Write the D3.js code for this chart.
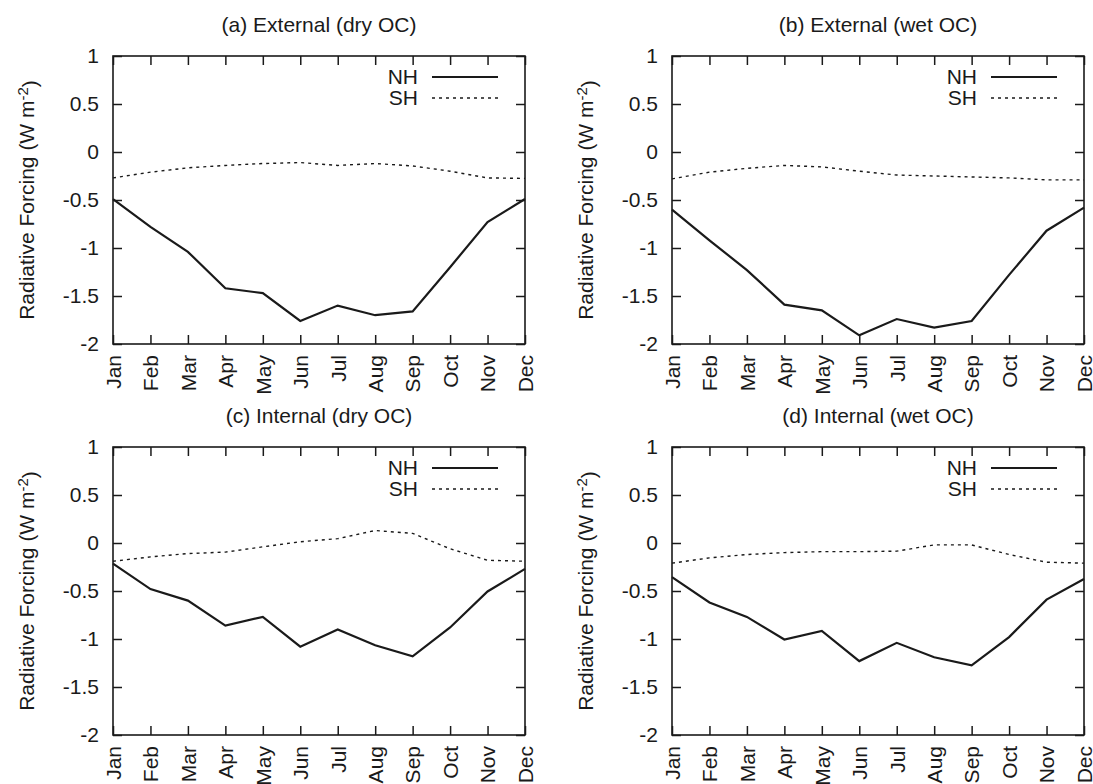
<!DOCTYPE html>
<html>
<head>
<meta charset="utf-8">
<script src="https://cdn.jsdelivr.net/npm/d3@7"></script>
<style>
  body { margin: 0; background: #fff; }
  text { font-family: "Liberation Sans", Arial, sans-serif; fill: #1a1a1a; }
</style>
</head>
<body>
<script>
var months = ['Jan','Feb','Mar','Apr','May','Jun','Jul','Aug','Sep','Oct','Nov','Dec'];
var yTicks = [1, 0.5, 0, -0.5, -1, -1.5, -2];
var yTickLabels = ['1','0.5','0','-0.5','-1','-1.5','-2'];

// (a) External (dry OC)
var aNH = [-0.49, -0.78, -1.04, -1.42, -1.47, -1.76, -1.60, -1.70, -1.66, -1.20, -0.73, -0.49];
var aSH = [-0.27, -0.21, -0.165, -0.14, -0.12, -0.11, -0.14, -0.12, -0.145, -0.20, -0.27, -0.275];
// (b) External (wet OC)
var bNH = [-0.60, -0.92, -1.23, -1.59, -1.65, -1.91, -1.74, -1.83, -1.76, -1.28, -0.82, -0.58];
var bSH = [-0.28, -0.21, -0.17, -0.14, -0.155, -0.20, -0.24, -0.25, -0.26, -0.27, -0.29, -0.29];
// (c) Internal (dry OC)
var cNH = [-0.215, -0.48, -0.60, -0.86, -0.77, -1.08, -0.90, -1.065, -1.18, -0.88, -0.505, -0.27];
var cSH = [-0.19, -0.145, -0.11, -0.095, -0.04, 0.013, 0.045, 0.13, 0.10, -0.06, -0.18, -0.19];
// (d) Internal (wet OC)
var dNH = [-0.355, -0.62, -0.77, -1.005, -0.915, -1.23, -1.04, -1.19, -1.275, -0.98, -0.59, -0.375];
var dSH = [-0.21, -0.155, -0.12, -0.10, -0.09, -0.09, -0.085, -0.02, -0.02, -0.12, -0.20, -0.21];

var titles = ['(a) External (dry OC)', '(b) External (wet OC)', '(c) Internal (dry OC)', '(d) Internal (wet OC)'];

var panels = [
  {title: titles[0], nh: aNH, sh: aSH, left: 113, top: 56},
  {title: titles[1], nh: bNH, sh: bSH, left: 672, top: 56},
  {title: titles[2], nh: cNH, sh: cSH, left: 113, top: 447},
  {title: titles[3], nh: dNH, sh: dSH, left: 672, top: 447}
];

var plotW = 412, plotH = 288;
var fontSize = 21;

var svg = d3.select('body').append('svg').attr('width', 1093).attr('height', 784);

var x = d3.scalePoint().domain(months).range([0, plotW]);
var y = d3.scaleLinear().domain([-2, 1]).range([plotH, 0]);

function drawPanel(p) {
  var g = svg.append('g').attr('transform', 'translate(' + p.left + ',' + p.top + ')');

  // title
  g.append('text')
    .attr('x', plotW / 2)
    .attr('y', -24)
    .attr('text-anchor', 'middle')
    .style('font-size', fontSize + 'px')
    .text(p.title);

  // y axis label
  var yl = g.append('text')
    .attr('transform', 'translate(-86,' + plotH / 2 + ') rotate(-90)')
    .attr('text-anchor', 'middle')
    .attr('dy', '0.35em')
    .style('font-size', fontSize + 'px');
  yl.append('tspan').text('Radiative Forcing (W m');
  yl.append('tspan').attr('dy', '-0.45em').style('font-size', '15px').text('-2');
  yl.append('tspan').attr('dy', '0.45em').text(')');

  // ticks on all four sides, pointing inward
  var tickLen = 9;
  var axL = d3.axisLeft(y).tickValues(yTicks)
    .tickFormat(function(d, i) { return yTickLabels[i]; })
    .tickSizeInner(-tickLen).tickSizeOuter(0).tickPadding(14);
  var axR = d3.axisRight(y).tickValues(yTicks).tickFormat('')
    .tickSizeInner(-tickLen).tickSizeOuter(0);
  var axB = d3.axisBottom(x).tickSizeInner(-tickLen).tickSizeOuter(0);
  var axT = d3.axisTop(x).tickFormat('').tickSizeInner(-tickLen).tickSizeOuter(0);

  var gl = g.append('g').call(axL);
  g.append('g').attr('transform', 'translate(' + plotW + ',0)').call(axR);
  var gb = g.append('g').attr('transform', 'translate(0,' + plotH + ')').call(axB);
  g.append('g').call(axT);

  g.selectAll('.domain').remove();
  g.selectAll('.tick line').attr('stroke', '#1a1a1a').attr('stroke-width', 1.5);

  gl.selectAll('text').style('font-size', fontSize + 'px').attr('fill', '#1a1a1a')
    .attr('font-family', null);

  gb.selectAll('text')
    .style('font-size', fontSize + 'px')
    .attr('fill', '#1a1a1a')
    .attr('font-family', null)
    .attr('text-anchor', 'end')
    .attr('transform', 'rotate(-90)')
    .attr('x', -11)
    .attr('y', 0)
    .attr('dy', '0.35em');

  // border
  g.append('rect')
    .attr('width', plotW).attr('height', plotH)
    .attr('fill', 'none').attr('stroke', '#1a1a1a').attr('stroke-width', 1.6);

  var line = d3.line()
    .x(function(d, i) { return x(months[i]); })
    .y(function(d) { return y(d); });

  g.append('path').datum(p.sh)
    .attr('d', line)
    .attr('fill', 'none').attr('stroke', '#1a1a1a')
    .attr('stroke-width', 1.4).attr('stroke-dasharray', '3,4');

  g.append('path').datum(p.nh)
    .attr('d', line)
    .attr('fill', 'none').attr('stroke', '#1a1a1a')
    .attr('stroke-width', 2.2).attr('stroke-linejoin', 'miter');

  // legend
  var leg = g.append('g').attr('transform', 'translate(' + (plotW - 107) + ',0)');
  [{name: 'NH', dash: null, w: 2.2, yy: 21}, {name: 'SH', dash: '3,4', w: 1.4, yy: 42}].forEach(function(s) {
    leg.append('text')
      .attr('x', 0).attr('y', s.yy).attr('dy', '0.35em')
      .attr('text-anchor', 'end')
      .style('font-size', fontSize + 'px')
      .text(s.name);
    leg.append('line')
      .attr('x1', 14).attr('x2', 80).attr('y1', s.yy).attr('y2', s.yy)
      .attr('stroke', '#1a1a1a').attr('stroke-width', s.w)
      .attr('stroke-dasharray', s.dash);
  });
}

panels.forEach(drawPanel);
</script>
</body>
</html>
